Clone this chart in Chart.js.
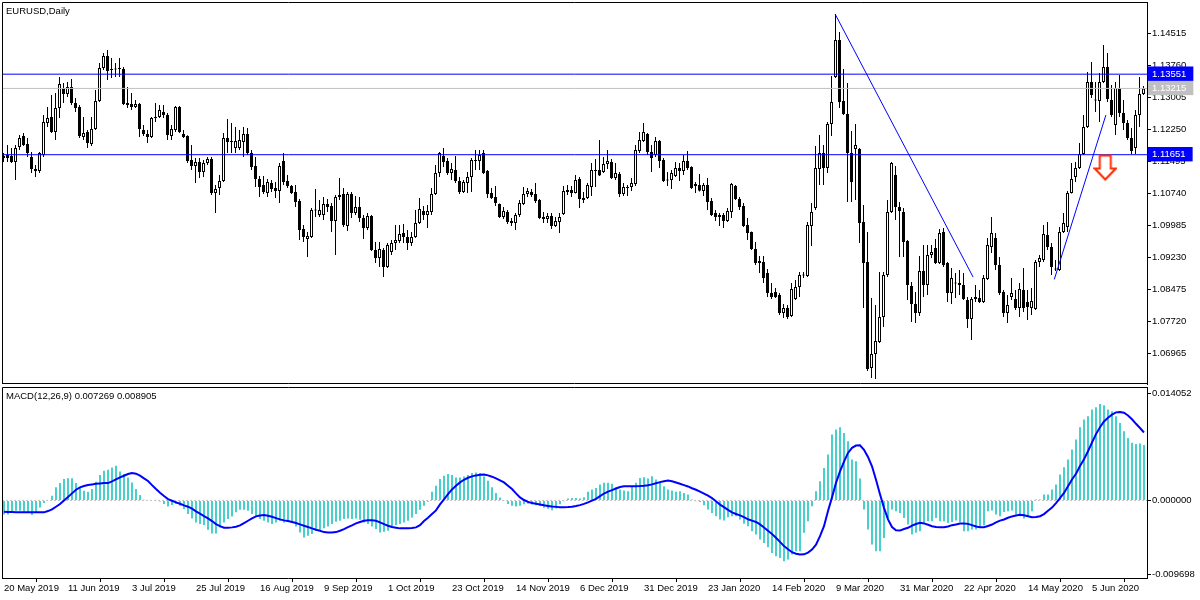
<!DOCTYPE html>
<html><head><meta charset="utf-8">
<script src="https://cdn.jsdelivr.net/npm/chart.js@4.4.1/dist/chart.umd.min.js"></script>
<style>
html,body{margin:0;padding:0;background:#fff;}
#wrap{position:relative;width:1200px;height:600px;overflow:hidden;background:#fff;}
canvas{position:absolute;left:0;}
#c1{top:0;} #c2{top:386px;}
.lbl{position:absolute;font-family:'Liberation Sans',Arial,sans-serif;font-size:9.5px;line-height:11px;color:#000;white-space:nowrap;}
</style></head><body>
<div id="wrap">
<canvas id="c1" width="1200" height="386"></canvas>
<canvas id="c2" width="1200" height="214"></canvas>
<div class="lbl" style="left:6px;top:5px">EURUSD,Daily</div>
<div class="lbl" style="left:6px;top:390px">MACD(12,26,9) 0.007269 0.008905</div>
</div>
<script>
// ---------------- data ----------------
const dateLabels = ['20 May 2019','11 Jun 2019','3 Jul 2019','25 Jul 2019','16 Aug 2019','9 Sep 2019','1 Oct 2019','23 Oct 2019','14 Nov 2019','6 Dec 2019','31 Dec 2019','23 Jan 2020','14 Feb 2020','9 Mar 2020','31 Mar 2020','22 Apr 2020','14 May 2020','5 Jun 2020'];
const dateLabelBars = [0,16,32,48,64,80,96,112,128,144,160,176,192,208,224,240,256,272];

const open = [
1.11619,1.11643,1.11619,1.11478,1.11832,1.12091,1.11903,1.11596,1.11313,1.11265,
1.11643,1.12398,1.12540,1.12186,1.12752,1.13224,1.13083,1.13248,1.12870,1.12776,
1.12068,1.12186,1.11903,1.12257,1.12917,1.13696,1.13979,1.13673,1.13673,1.13673,
1.13673,1.12870,1.12847,1.12776,1.12847,1.12233,1.12139,1.12068,1.12516,1.12540,
1.12658,1.12587,1.12091,1.12233,1.12776,1.12139,1.12091,1.11525,1.11383,1.11478,
1.11242,1.11454,1.11549,1.10746,1.10864,1.11029,1.12044,1.11973,1.11808,1.11808,
1.11950,1.12139,1.11690,1.11383,1.11077,1.10935,1.10746,1.10982,1.10864,1.10793,
1.11501,1.11029,1.10911,1.10770,1.10557,1.09897,1.09661,1.09708,1.10345,1.10227,
1.10227,1.10487,1.10439,1.10085,1.10652,1.10723,1.09967,1.10723,1.10274,1.10416,
1.10156,1.09920,1.10203,1.09401,1.09212,1.09401,1.09000,1.09354,1.09566,1.09613,
1.09802,1.09708,1.09566,1.09708,1.10038,1.10321,1.10227,1.10298,1.10723,1.11218,
1.11619,1.11501,1.11218,1.11289,1.11029,1.10770,1.10982,1.11124,1.11501,1.11501,
1.11690,1.11265,1.10746,1.10652,1.10487,1.10180,1.10298,1.10085,1.10038,1.10227,
1.10487,1.10723,1.10770,1.10723,1.10581,1.10180,1.10133,1.10203,1.09967,1.10062,
1.10251,1.10770,1.10817,1.10746,1.11077,1.10628,1.10628,1.10888,1.11265,1.11289,
1.11242,1.11431,1.11478,1.11100,1.11195,1.10723,1.10888,1.10888,1.10959,1.11737,
1.11973,1.12139,1.11714,1.11643,1.11973,1.11525,1.11053,1.11053,1.11147,1.11336,
1.11265,1.11501,1.11360,1.10959,1.10935,1.10793,1.10935,1.10557,1.10274,1.10180,
1.10227,1.10085,1.10298,1.10911,1.10605,1.10439,1.09991,1.09826,1.09425,1.09141,
1.09118,1.08858,1.08386,1.08410,1.08339,1.07914,1.08032,1.07843,1.08245,1.08528,
1.08811,1.08787,1.09967,1.10392,1.11313,1.11690,1.11336,1.12375,1.13484,1.14357,
1.12917,1.12611,1.11690,1.11785,1.11785,1.10062,1.09118,1.06616,1.06947,1.07230,
1.07820,1.08811,1.10298,1.11171,1.10416,1.10298,1.09613,1.08551,1.08127,1.07914,
1.08905,1.08575,1.09283,1.09448,1.09094,1.09826,1.09094,1.08386,1.08622,1.08622,
1.08575,1.08221,1.07773,1.08245,1.08268,1.08174,1.08717,1.09472,1.09684,1.09047,
1.08410,1.07914,1.08292,1.08245,1.08032,1.08457,1.08174,1.08032,1.08009,1.09118,
1.09165,1.09755,1.09472,1.08953,1.08929,1.09826,1.09944,1.10746,1.11124,1.11336,
1.11667,1.12304,1.13366,1.12941,1.12917,1.13366,1.13720,1.12941,1.12351,1.13224,
1.12634,1.12398,1.12044,1.11808,1.12587,1.13083];

const high = [
1.11690,1.11879,1.11808,1.11879,1.12115,1.12162,1.12044,1.11714,1.11407,1.11714,
1.12587,1.12776,1.13059,1.13106,1.13484,1.13342,1.13366,1.13437,1.12988,1.12823,
1.12540,1.12233,1.12540,1.13177,1.13814,1.14050,1.14121,1.13932,1.13814,1.13932,
1.13720,1.13248,1.13106,1.12941,1.12870,1.12351,1.12233,1.12540,1.12870,1.12823,
1.12823,1.12634,1.12351,1.12799,1.12799,1.12233,1.12110,1.11879,1.11572,1.11572,
1.11525,1.11596,1.11596,1.10935,1.11171,1.12162,1.12493,1.12398,1.12304,1.12233,
1.12304,1.12280,1.11761,1.11596,1.11147,1.11147,1.11077,1.11053,1.11006,1.11454,
1.11690,1.11171,1.10935,1.10935,1.10605,1.09991,1.09826,1.10392,1.10841,1.10581,
1.10652,1.10605,1.10510,1.10699,1.11100,1.10864,1.10770,1.10770,1.10675,1.10652,
1.10227,1.10274,1.10227,1.09590,1.09590,1.09448,1.09566,1.09637,1.09991,1.09991,
1.10015,1.09873,1.09826,1.10345,1.10628,1.10439,1.10463,1.10864,1.11407,1.11714,
1.11808,1.11572,1.11454,1.11619,1.11124,1.11053,1.11242,1.11572,1.11761,1.11761,
1.11761,1.11289,1.10864,1.10911,1.10500,1.10416,1.10345,1.10156,1.10274,1.10581,
1.10888,1.10864,1.10841,1.10982,1.10605,1.10298,1.10274,1.10274,1.10180,1.10274,
1.10911,1.10935,1.10911,1.11171,1.11124,1.10770,1.10982,1.11454,1.11549,1.11997,
1.11596,1.11761,1.11549,1.11454,1.11242,1.10982,1.10935,1.11100,1.11879,1.12186,
1.12398,1.12162,1.11879,1.12068,1.11997,1.11572,1.11242,1.11289,1.11478,1.11454,
1.11643,1.11737,1.11380,1.11006,1.11195,1.10982,1.11100,1.10628,1.10345,1.10274,
1.10274,1.10392,1.10982,1.10935,1.10652,1.10510,1.10156,1.09840,1.09590,1.09259,
1.09259,1.08953,1.08622,1.08504,1.08386,1.08127,1.08103,1.08622,1.08693,1.08882,
1.08882,1.10062,1.10510,1.11855,1.12115,1.11879,1.12422,1.13507,1.14971,1.14546,
1.13673,1.13342,1.12209,1.12375,1.11808,1.10463,1.09826,1.08268,1.08103,1.08882,
1.08882,1.10581,1.11478,1.11383,1.10534,1.10392,1.09637,1.08646,1.08410,1.09259,
1.09519,1.09519,1.09519,1.09661,1.09897,1.09920,1.09118,1.08976,1.08858,1.08929,
1.08858,1.08292,1.08292,1.08575,1.08457,1.08811,1.09684,1.10180,1.09802,1.09236,
1.08457,1.08339,1.08740,1.08457,1.08622,1.08976,1.08457,1.08504,1.09165,1.09283,
1.09991,1.10062,1.09566,1.09165,1.09944,1.10274,1.10793,1.11454,1.11478,1.11926,
1.12587,1.13602,1.13838,1.13366,1.13578,1.14239,1.14050,1.13295,1.13366,1.13531,
1.12941,1.12469,1.12280,1.12705,1.13484,1.13271];

const low = [
1.11478,1.11478,1.11454,1.11053,1.11761,1.11855,1.11596,1.11218,1.11124,1.11218,
1.11596,1.12304,1.12162,1.11997,1.12516,1.12870,1.13012,1.12823,1.12658,1.12044,
1.11997,1.11808,1.11855,1.12233,1.12894,1.13649,1.13413,1.13460,1.13484,1.13484,
1.12823,1.12752,1.12705,1.12752,1.12068,1.12091,1.11926,1.12044,1.12422,1.12516,
1.12516,1.11997,1.11997,1.12186,1.12162,1.12044,1.11454,1.11289,1.10982,1.11100,
1.11124,1.11407,1.10699,1.10274,1.10699,1.11006,1.11690,1.11690,1.11690,1.11761,
1.11596,1.11643,1.11289,1.10888,1.10652,1.10723,1.10652,1.10770,1.10628,1.10510,
1.10935,1.10864,1.10723,1.10416,1.09637,1.09590,1.09236,1.09684,1.10180,1.10180,
1.10109,1.10298,1.09826,1.09283,1.10581,1.09944,1.09849,1.10156,1.10227,1.10062,
1.09661,1.09873,1.09377,1.09094,1.09000,1.08764,1.08976,1.09283,1.09401,1.09566,
1.09566,1.09401,1.09495,1.09684,1.10015,1.10109,1.09920,1.10227,1.10699,1.11124,
1.11360,1.11171,1.11053,1.10982,1.10723,1.10746,1.10746,1.10770,1.11289,1.11289,
1.11195,1.10628,1.10605,1.10439,1.10156,1.10133,1.10015,1.09967,1.09873,1.10180,
1.10463,1.10652,1.10652,1.10510,1.10133,1.10038,1.10038,1.09897,1.09944,1.09802,
1.10227,1.10699,1.10652,1.10735,1.10392,1.10510,1.10605,1.10675,1.10888,1.11147,
1.11218,1.11313,1.11077,1.11053,1.10652,1.10675,1.10675,1.10793,1.10911,1.11690,
1.11950,1.11643,1.11242,1.11596,1.11336,1.11006,1.10911,1.10841,1.11124,1.11029,
1.11171,1.11289,1.10841,1.10746,1.10780,1.10675,1.10345,1.10203,1.10085,1.09967,
1.09920,1.10062,1.10156,1.10581,1.10345,1.09944,1.09637,1.09401,1.09047,1.08858,
1.08622,1.08292,1.08245,1.08268,1.07867,1.07796,1.07773,1.07820,1.08221,1.08292,
1.08740,1.08764,1.09495,1.10345,1.10935,1.10935,1.11218,1.12091,1.13460,1.12752,
1.12587,1.10534,1.10534,1.10581,1.09566,1.08032,1.06545,1.06380,1.06357,1.07206,
1.07584,1.08764,1.10274,1.10109,1.09236,1.09236,1.08221,1.07702,1.07678,1.07843,
1.08292,1.08339,1.09212,1.09071,1.09071,1.09000,1.08174,1.08127,1.08268,1.08339,
1.08221,1.07560,1.07277,1.08174,1.08150,1.08150,1.08693,1.09330,1.08929,1.08339,
1.07820,1.07678,1.08221,1.07985,1.07820,1.07938,1.07749,1.07867,1.07985,1.09000,
1.09118,1.09401,1.08811,1.08905,1.08905,1.09802,1.09826,1.10735,1.11006,1.11313,
1.11643,1.12280,1.12988,1.12658,1.12422,1.13342,1.12894,1.12540,1.12115,1.12540,
1.12233,1.11997,1.11667,1.11667,1.12304,1.13059];

const close = [
1.11572,1.11572,1.11478,1.11808,1.12044,1.11879,1.11690,1.11313,1.11265,1.11690,
1.12422,1.12516,1.12186,1.12752,1.13319,1.13083,1.13248,1.12870,1.12752,1.12091,
1.12162,1.11926,1.12257,1.12917,1.13696,1.13979,1.13625,1.13649,1.13660,1.13680,
1.12847,1.12823,1.12776,1.12847,1.12257,1.12139,1.12068,1.12516,1.12540,1.12705,
1.12587,1.12115,1.12257,1.12776,1.12186,1.12068,1.11501,1.11383,1.11478,1.11242,
1.11454,1.11549,1.10746,1.10841,1.11029,1.12044,1.11950,1.11950,1.11973,1.11997,
1.12139,1.11690,1.11360,1.11077,1.10888,1.10770,1.11006,1.10841,1.10793,1.11383,
1.11006,1.10911,1.10746,1.10534,1.09873,1.09708,1.09731,1.10345,1.10335,1.10345,
1.10487,1.10416,1.10085,1.10652,1.10699,1.09991,1.10723,1.10274,1.10416,1.10156,
1.09920,1.10203,1.09401,1.09212,1.09425,1.09000,1.09519,1.09566,1.09637,1.09779,
1.09708,1.09566,1.09708,1.10038,1.10369,1.10227,1.10321,1.10723,1.11218,1.11690,
1.11478,1.11218,1.11313,1.11029,1.10770,1.11006,1.11124,1.11525,1.11525,1.11643,
1.11218,1.10723,1.10628,1.10510,1.10180,1.10321,1.10062,1.10038,1.10227,1.10510,
1.10723,1.10793,1.10699,1.10557,1.10156,1.10133,1.10203,1.09967,1.10085,1.10180,
1.10793,1.10817,1.10746,1.11053,1.10605,1.10581,1.10935,1.11289,1.11289,1.11160,
1.11431,1.11501,1.11100,1.11218,1.10723,1.10888,1.10864,1.10982,1.11761,1.11997,
1.12186,1.11714,1.11572,1.11973,1.11501,1.11029,1.11041,1.11218,1.11336,1.11265,
1.11501,1.11336,1.10864,1.10911,1.10800,1.10935,1.10534,1.10227,1.10180,1.10227,
1.10085,1.10321,1.10959,1.10605,1.10416,1.09967,1.09802,1.09425,1.09094,1.09094,
1.08740,1.08386,1.08292,1.08292,1.07914,1.08032,1.07820,1.08481,1.08528,1.08811,
1.08800,1.09991,1.10298,1.11336,1.11690,1.11336,1.12375,1.12894,1.14357,1.12894,
1.12611,1.11690,1.11006,1.11879,1.10038,1.09094,1.06593,1.06947,1.07253,1.07820,
1.08811,1.10298,1.11454,1.10416,1.10321,1.09590,1.08575,1.08127,1.07914,1.08905,
1.08575,1.09283,1.09354,1.09094,1.09802,1.09047,1.08386,1.08740,1.08610,1.08575,
1.08245,1.07773,1.08245,1.08292,1.08174,1.08740,1.09519,1.09802,1.09047,1.08386,
1.07914,1.08103,1.08386,1.08032,1.08481,1.08032,1.08056,1.08197,1.09118,1.09212,
1.09779,1.09472,1.09000,1.08940,1.09826,1.10038,1.10746,1.11077,1.11336,1.11667,
1.12304,1.13366,1.13059,1.12930,1.13366,1.13720,1.12965,1.12587,1.13224,1.12634,
1.12398,1.12044,1.11737,1.12587,1.13083,1.13215];

const macdMain = [
-0.00184,-0.00184,-0.00157,-0.00136,-0.00136,-0.00149,-0.00166,-0.00192,-0.00149,-0.00092,
-0.00035,0.00000,0.00061,0.00171,0.00227,0.00280,0.00289,0.00289,0.00227,0.00171,
0.00127,0.00114,0.00149,0.00245,0.00332,0.00389,0.00402,0.00433,0.00455,0.00380,
0.00346,0.00301,0.00236,0.00149,0.00070,0.00009,-0.00009,-0.00009,-0.00004,-0.00013,
-0.00048,-0.00079,-0.00061,-0.00048,-0.00070,-0.00114,-0.00179,-0.00236,-0.00289,-0.00311,
-0.00324,-0.00385,-0.00433,-0.00433,-0.00354,-0.00289,-0.00245,-0.00210,-0.00157,-0.00122,
-0.00122,-0.00136,-0.00179,-0.00201,-0.00245,-0.00267,-0.00289,-0.00311,-0.00289,-0.00267,
-0.00289,-0.00280,-0.00297,-0.00341,-0.00420,-0.00486,-0.00464,-0.00442,-0.00398,-0.00385,
-0.00367,-0.00341,-0.00311,-0.00280,-0.00267,-0.00245,-0.00236,-0.00245,-0.00236,-0.00254,
-0.00289,-0.00311,-0.00341,-0.00376,-0.00420,-0.00411,-0.00398,-0.00354,-0.00324,-0.00311,
-0.00289,-0.00267,-0.00223,-0.00179,-0.00122,-0.00070,-0.00017,0.00114,0.00192,0.00280,
0.00324,0.00346,0.00332,0.00301,0.00301,0.00315,0.00332,0.00359,0.00367,0.00359,
0.00315,0.00258,0.00171,0.00096,0.00039,-0.00004,-0.00048,-0.00070,-0.00079,-0.00070,
-0.00050,-0.00045,-0.00055,-0.00065,-0.00075,-0.00095,-0.00110,-0.00130,-0.00105,-0.00050,
-0.00010,0.00025,0.00033,0.00033,0.00024,0.00042,0.00112,0.00142,0.00164,0.00208,
0.00230,0.00230,0.00217,0.00173,0.00142,0.00129,0.00120,0.00186,0.00230,0.00295,
0.00304,0.00287,0.00317,0.00273,0.00230,0.00186,0.00142,0.00129,0.00112,0.00120,
0.00098,0.00077,0.00011,-0.00011,-0.00020,-0.00063,-0.00120,-0.00164,-0.00208,-0.00251,
-0.00265,-0.00221,-0.00208,-0.00208,-0.00251,-0.00308,-0.00339,-0.00405,-0.00448,-0.00514,
-0.00558,-0.00615,-0.00689,-0.00733,-0.00755,-0.00798,-0.00776,-0.00711,-0.00667,-0.00667,
-0.00426,-0.00273,-0.00077,0.00120,0.00252,0.00426,0.00601,0.00864,0.00929,0.00960,
0.00886,0.00776,0.00536,0.00514,0.00286,-0.00120,-0.00383,-0.00580,-0.00667,-0.00667,
-0.00492,-0.00230,-0.00120,-0.00142,-0.00164,-0.00230,-0.00317,-0.00448,-0.00426,-0.00405,
-0.00308,-0.00273,-0.00273,-0.00230,-0.00273,-0.00273,-0.00295,-0.00282,-0.00265,-0.00282,
-0.00405,-0.00405,-0.00383,-0.00383,-0.00361,-0.00326,-0.00142,-0.00133,-0.00186,-0.00208,
-0.00151,-0.00142,-0.00133,-0.00186,-0.00208,-0.00238,-0.00208,-0.00142,0.00011,0.00011,
0.00077,0.00077,0.00142,0.00208,0.00339,0.00435,0.00536,0.00667,0.00798,0.00960,
0.01061,0.01104,0.01192,0.01223,0.01266,0.01249,0.01192,0.01170,0.01104,0.01017,
0.00908,0.00820,0.00755,0.00740,0.00745,0.007269];

const macdSignal = [
-0.00149,-0.00153,-0.00153,-0.00157,-0.00157,-0.00157,-0.00157,-0.00157,-0.00157,-0.00157,
-0.00157,-0.00140,-0.00118,-0.00083,-0.00048,0.00000,0.00044,0.00092,0.00140,0.00171,
0.00188,0.00201,0.00210,0.00219,0.00223,0.00227,0.00227,0.00249,0.00276,0.00302,
0.00324,0.00346,0.00359,0.00350,0.00324,0.00289,0.00254,0.00201,0.00149,0.00101,
0.00057,0.00017,-0.00004,-0.00026,-0.00044,-0.00066,-0.00083,-0.00109,-0.00144,-0.00175,
-0.00206,-0.00236,-0.00271,-0.00311,-0.00337,-0.00359,-0.00359,-0.00354,-0.00346,-0.00328,
-0.00297,-0.00267,-0.00236,-0.00210,-0.00197,-0.00192,-0.00201,-0.00214,-0.00232,-0.00249,
-0.00262,-0.00271,-0.00284,-0.00297,-0.00315,-0.00332,-0.00350,-0.00367,-0.00385,-0.00398,
-0.00416,-0.00420,-0.00420,-0.00416,-0.00398,-0.00376,-0.00350,-0.00328,-0.00302,-0.00284,
-0.00267,-0.00262,-0.00262,-0.00267,-0.00289,-0.00311,-0.00332,-0.00350,-0.00359,-0.00367,
-0.00367,-0.00367,-0.00363,-0.00354,-0.00324,-0.00271,-0.00227,-0.00179,-0.00131,-0.00052,
0.00013,0.00083,0.00144,0.00192,0.00236,0.00271,0.00297,0.00315,0.00328,0.00337,
0.00341,0.00328,0.00311,0.00289,0.00262,0.00236,0.00192,0.00149,0.00092,0.00040,
0.00005,-0.00020,-0.00035,-0.00045,-0.00055,-0.00065,-0.00073,-0.00080,-0.00085,-0.00090,
-0.00090,-0.00088,-0.00082,-0.00073,-0.00062,-0.00046,-0.00026,-0.00002,0.00020,0.00055,
0.00090,0.00116,0.00135,0.00156,0.00176,0.00186,0.00186,0.00186,0.00186,0.00188,
0.00192,0.00200,0.00210,0.00225,0.00240,0.00252,0.00260,0.00250,0.00235,0.00218,
0.00200,0.00183,0.00160,0.00140,0.00115,0.00090,0.00062,0.00030,-0.00010,-0.00055,
-0.00088,-0.00125,-0.00158,-0.00178,-0.00197,-0.00220,-0.00248,-0.00265,-0.00283,-0.00315,
-0.00355,-0.00398,-0.00440,-0.00490,-0.00545,-0.00600,-0.00640,-0.00680,-0.00700,-0.00711,
-0.00708,-0.00685,-0.00645,-0.00580,-0.00470,-0.00339,-0.00140,0.00040,0.00230,0.00380,
0.00510,0.00623,0.00690,0.00720,0.00724,0.00665,0.00570,0.00448,0.00270,0.00080,
-0.00098,-0.00250,-0.00350,-0.00392,-0.00396,-0.00375,-0.00360,-0.00330,-0.00310,-0.00295,
-0.00302,-0.00320,-0.00339,-0.00350,-0.00353,-0.00352,-0.00342,-0.00325,-0.00315,-0.00303,
-0.00302,-0.00308,-0.00325,-0.00342,-0.00352,-0.00352,-0.00335,-0.00317,-0.00288,-0.00265,
-0.00250,-0.00228,-0.00210,-0.00199,-0.00188,-0.00195,-0.00208,-0.00220,-0.00218,-0.00208,
-0.00180,-0.00135,-0.00095,-0.00035,0.00030,0.00098,0.00185,0.00275,0.00350,0.00450,
0.00540,0.00645,0.00760,0.00870,0.00960,0.01035,0.01085,0.01126,0.01155,0.01160,
0.01150,0.01115,0.01065,0.01005,0.00950,0.008905];

const priceTicks = [1.14515,1.13760,1.13005,1.12250,1.11495,1.10740,1.09985,1.09230,1.08475,1.07720,1.06965];
const levelLines = [1.13551,1.11651];     // blue horizontal levels
const bidLevel = 1.13215;                 // grey current-price line
const trendA = [{x:207.9,y:1.14971},{x:242.4,y:1.08764}];
const trendB = [{x:262.7,y:1.08710},{x:275.6,y:1.12587}];
const arrowMark = [{x:275.45,y:1.11336}];
const macdTicks = [0.014052,0,-0.009698];

// ---------------- styling / layout ----------------
const FONT = "'Liberation Sans', Arial, sans-serif";
Chart.defaults.font.family = FONT;
Chart.defaults.font.size = 9.5;
Chart.defaults.color = '#000';
const PX0 = -0.375, PX1 = 285.875;   // price panel x-scale bounds
const MX0 = -0.5,   MX1 = 285.75;    // macd panel x-scale bounds
const BLUE = '#0000ff';
const marked = {1.13551: BLUE, 1.11651: BLUE, 1.13215: '#c0c0c0'};

function makeArrow(){
  const c = document.createElement('canvas'); c.width = 24; c.height = 28;
  const g = c.getContext('2d');
  g.beginPath();
  g.moveTo(6.5,1.5); g.lineTo(17.5,1.5); g.lineTo(17.5,14.5); g.lineTo(22.5,14.5);
  g.lineTo(12,25.5); g.lineTo(1.5,14.5); g.lineTo(6.5,14.5); g.closePath();
  g.fillStyle = '#fff'; g.fill();
  g.strokeStyle = '#ff2a00'; g.lineWidth = 2; g.stroke();
  return c;
}

const framePlugin = {
  id: 'frame',
  afterDraw(chart, args, opts){
    const {ctx, chartArea: a} = chart;
    ctx.save(); ctx.strokeStyle = '#000'; ctx.lineWidth = 1;
    ctx.beginPath();
    ctx.moveTo(a.left + 0.5, a.bottom);
    ctx.lineTo(a.left + 0.5, a.top + 0.5);
    ctx.lineTo(a.right, a.top + 0.5);
    if (opts.bottom) { ctx.moveTo(a.left, a.bottom - 0.5); ctx.lineTo(a.right, a.bottom - 0.5); }
    ctx.stroke(); ctx.restore();
  }
};
const fitY = s => { s.width = 53; s.paddingTop = 0; s.paddingBottom = 0; s.paddingLeft = 0; s.paddingRight = 0; };
const fitX = s => { s.height = 22; s.paddingTop = 0; s.paddingBottom = 0; s.paddingLeft = 0; s.paddingRight = 0; };

const idx = open.map((_, i) => i);
const hLine = (y, color) => ({
  type: 'line', data: [{x: PX0, y}, {x: PX1, y}], borderColor: color, borderWidth: 1,
  pointRadius: 0, order: 1, tension: 0
});

// ---------------- price chart ----------------
new Chart(document.getElementById('c1'), {
  type: 'bar',
  data: {
    datasets: [
      { type: 'line', data: arrowMark, showLine: false, pointStyle: makeArrow(), pointRadius: 12, order: 0 },
      { type: 'line', data: trendA, borderColor: BLUE, borderWidth: 1, pointRadius: 0, order: 0 },
      { type: 'line', data: trendB, borderColor: BLUE, borderWidth: 1, pointRadius: 0, order: 0 },
      hLine(levelLines[0], BLUE),
      hLine(levelLines[1], BLUE),
      hLine(bidLevel, '#c0c0c0'),
      {
        data: idx.map(i => ({x: i, y: [open[i], close[i]]})),
        backgroundColor: c => (close[c.dataIndex] - open[c.dataIndex] > 0.00015) ? '#fff' : '#000',
        borderColor: '#000', borderWidth: 1, borderSkipped: false,
        barThickness: 3, grouped: false, minBarLength: 1, inflateAmount: 0, order: 2
      },
      {
        data: idx.map(i => ({x: i, y: [low[i], high[i]]})),
        backgroundColor: '#000', borderWidth: 0, barThickness: 1,
        grouped: false, inflateAmount: 0, order: 3
      }
    ]
  },
  options: {
    responsive: false, animation: false, events: [], devicePixelRatio: 1,
    layout: { autoPadding: false, padding: { left: 2, top: 2, right: 0, bottom: 2 } },
    plugins: { legend: { display: false }, tooltip: { enabled: false }, frame: { bottom: true } },
    scales: {
      x: { type: 'linear', min: PX0, max: PX1, offset: false, display: false, grid: { display: false } },
      y: {
        type: 'linear', position: 'right', min: 1.06241, max: 1.15254,
        afterFit: fitY,
        afterBuildTicks: s => { s.ticks = priceTicks.concat([bidLevel], levelLines).map(v => ({value: v})); },
        ticks: {
          autoSkip: false, padding: 1, font: { size: 9.5 },
          color: c => marked[c.tick.value] ? '#fff' : '#000',
          showLabelBackdrop: c => !!marked[c.tick.value],
          backdropColor: c => marked[c.tick.value] || 'rgba(0,0,0,0)',
          backdropPadding: { left: 4, right: 7, top: 2, bottom: 1 },
          callback: v => Number(v).toFixed(5)
        },
        grid: { drawOnChartArea: false, drawTicks: true, tickLength: 4,
                tickColor: c => (c.tick && marked[c.tick.value]) ? 'rgba(0,0,0,0)' : '#000' },
        border: { display: true, color: '#000', width: 1 }
      }
    }
  },
  plugins: [framePlugin]
});

// ---------------- MACD chart ----------------
new Chart(document.getElementById('c2'), {
  type: 'bar',
  data: {
    datasets: [
      { type: 'line', data: idx.map(i => ({x: i, y: macdSignal[i]})), borderColor: BLUE, borderWidth: 2,
        pointRadius: 0, tension: 0, order: 0 },
      { data: idx.map(i => ({x: i, y: macdMain[i]})), backgroundColor: 'rgb(72,209,204)',
        barThickness: 2, grouped: false, inflateAmount: 0, borderWidth: 0, order: 1 },
      { type: 'line', data: [{x: MX0, y: 0}, {x: MX1, y: 0}], borderColor: '#c0c0c0', borderWidth: 1,
        borderDash: [2, 2], pointRadius: 0, order: 2 }
    ]
  },
  options: {
    responsive: false, animation: false, events: [], devicePixelRatio: 1,
    layout: { autoPadding: false, padding: { left: 2, top: 1, right: 0, bottom: 0 } },
    plugins: { legend: { display: false }, tooltip: { enabled: false }, frame: { bottom: false } },
    scales: {
      x: {
        type: 'linear', min: MX0, max: MX1, offset: false, position: 'bottom',
        afterFit: fitX,
        afterBuildTicks: s => { s.ticks = dateLabelBars.map(v => ({value: v})); },
        ticks: { autoSkip: false, maxRotation: 0, minRotation: 0, align: 'start', padding: 1,
                 font: { size: 9.5 }, color: '#000',
                 callback: v => dateLabels[dateLabelBars.indexOf(v)] },
        grid: { drawOnChartArea: false, drawTicks: true, tickLength: 4, color: '#000', tickColor: '#000' },
        border: { display: true, color: '#000', width: 1 }
      },
      y: {
        type: 'linear', position: 'right', min: -0.010183, max: 0.014880,
        afterFit: fitY,
        afterBuildTicks: s => { s.ticks = macdTicks.map(v => ({value: v})); },
        ticks: { autoSkip: false, padding: 1, font: { size: 9.5 }, color: '#000',
                 callback: v => Number(v).toFixed(6) },
        grid: { drawOnChartArea: false, drawTicks: true, tickLength: 4, tickColor: '#000' },
        border: { display: true, color: '#000', width: 1 }
      }
    }
  },
  plugins: [framePlugin]
});
</script>
</body></html>
